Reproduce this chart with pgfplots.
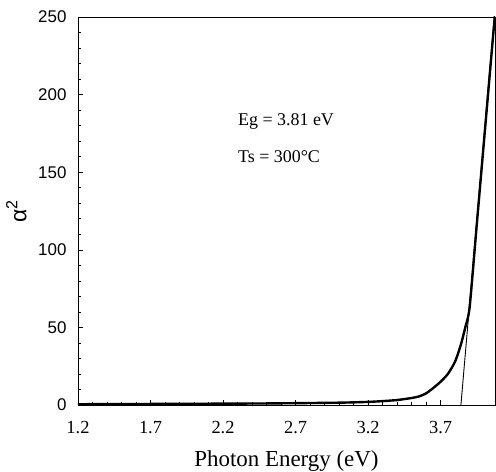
\documentclass[border=0pt]{standalone}
\usepackage{fontspec}
\setmainfont{Liberation Serif}
\setsansfont{Liberation Sans}
\usepackage{pgfplots}
\pgfplotsset{compat=1.18}

\begin{document}
\begin{tikzpicture}
\begin{axis}[
  scale only axis,
  width=417bp,
  height=388bp,
  xmin=1.2, xmax=4.075,
  ymin=0, ymax=250,
  xtick={1.2,1.7,2.2,2.7,3.2,3.7},
  ytick={0,50,100,150,200,250},
  minor x tick num=4,
  minor y tick num=4,
  xtick pos=bottom,
  ytick pos=left,
  tick align=inside,
  major tick length=5bp,
  minor tick length=3.5bp,
  axis line style={line width=0.9pt},
  every tick/.style={black, line width=0.6pt},
  /pgf/number format/assume math mode=true,
  xticklabel style={font=\fontsize{18.5}{22}\selectfont, /pgf/number format/fixed, /pgf/number format/precision=1, /pgf/number format/fixed zerofill, yshift=-13bp},
  yticklabel style={font=\sffamily\fontsize{17}{20}\selectfont, xshift=-8bp},
  xlabel={Photon Energy (eV)},
  xlabel style={font=\fontsize{23}{27}\selectfont, at={(axis description cs:0.5,-0.159)}, anchor=base},
  ylabel={\sffamily α\textsuperscript{2}},
  ylabel style={font=\fontsize{23}{27}\selectfont, at={(axis description cs:-0.148,0.5)}, anchor=center},
  clip=true,
]
% measured curve
\addplot[black, line width=2.4pt, smooth, tension=0.4] coordinates {
  (1.20,0.5) (1.50,0.6) (2.00,0.8) (2.50,1.0) (3.00,1.5) (3.20,2.0)
  (3.30,2.5) (3.40,3.2) (3.50,4.5) (3.55,5.5) (3.60,7.5) (3.65,11)
  (3.70,15) (3.75,20) (3.80,28) (3.84,39) (3.87,50) (3.90,63)
  (3.95,117) (4.00,171) (4.05,225) (4.075,252)
};
% linear extrapolation
\addplot[black, line width=0.9pt] coordinates {(3.84,0) (4.07,250)};
\node[anchor=base west, font=\fontsize{18}{21}\selectfont] at (axis cs:2.28,180) {Eg = 3.81 eV};
\node[anchor=base west, font=\fontsize{18}{21}\selectfont] at (axis cs:2.28,156.5) {Ts = 300°C};
\end{axis}
\pgfresetboundingbox
\path ([xshift=-78bp,yshift=-67bp]current axis.south west) rectangle ([xshift=1bp,yshift=17bp]current axis.north east);
\end{tikzpicture}
\end{document}
